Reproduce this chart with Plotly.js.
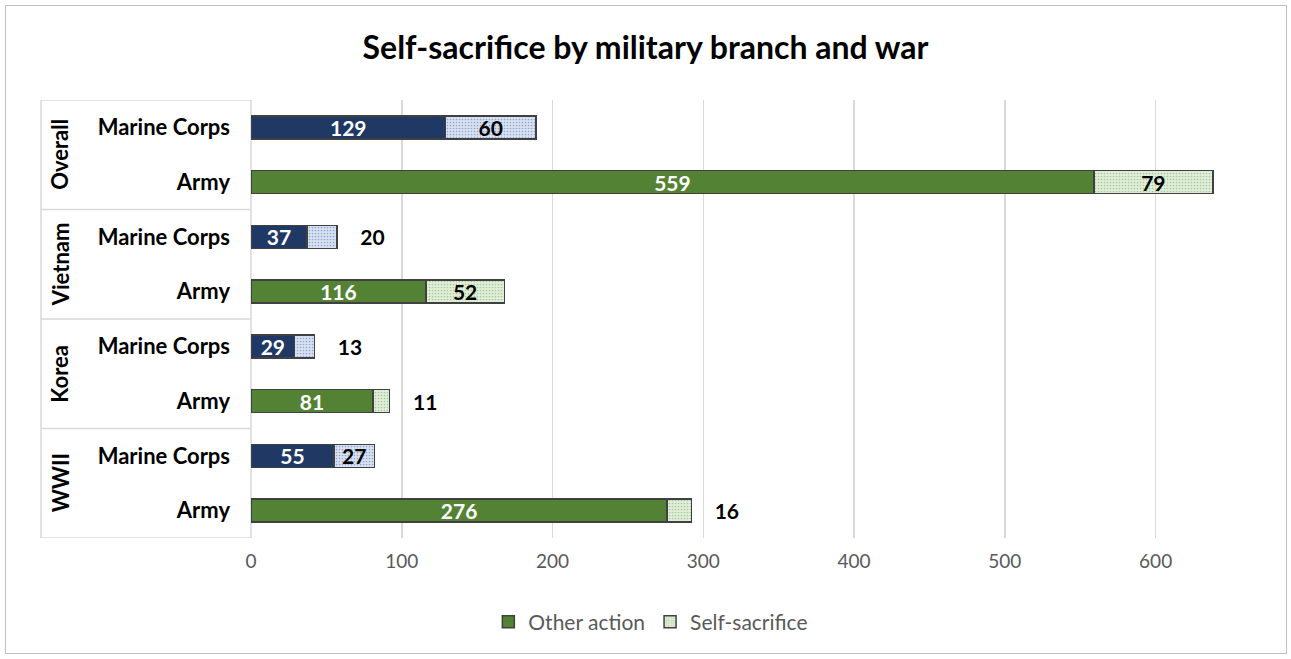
<!DOCTYPE html>
<html><head><meta charset="utf-8">
<script src="https://cdn.plot.ly/plotly-3.0.1.min.js"></script>
<style>
body{margin:0;background:#fff;}
#chart{width:1291px;height:659px;}
#frame{position:absolute;left:5px;top:5px;width:1280px;height:647px;border:1px solid #bfbfbf;pointer-events:none;}
</style></head>
<body>
<div id="chart"></div><div id="frame"></div>
<script>
// Data (bottom to top order of wars)
const wars = ['WWII', 'Korea', 'Vietnam', 'Overall'];
const branches = ['Army', 'Marine Corps'];
const armyOther = [276, 81, 116, 559];
const armySelf = [16, 11, 52, 79];
const marineOther = [55, 29, 37, 129];
const marineSelf = [27, 13, 20, 60];
const selfLabelOutsideArmy = [true, true, false, false];
const selfLabelOutsideMarine = [false, true, true, false];

const armyY = wars.map((w, i) => i * 2);
const marineY = wars.map((w, i) => i * 2 + 1);
const tickvals = [], ticktext = [];
wars.forEach((w, i) => { tickvals.push(i*2, i*2+1); ticktext.push(branches[0], branches[1]); });

const FONT = 'Lato, "Open Sans", sans-serif';
const lineStyle = {color: '#404040', width: 1.5};
const barW = 0.42;
const PAD = '\u00a0\u00a0\u00a0\u00a0';
const selfText = (vals, outs) => vals.map((v, i) => outs[i] ? PAD + v : String(v));

const common = {type:'bar', orientation:'h', width: barW, constraintext:'none', textangle:0,
  insidetextanchor:'middle', cliponaxis:false};

const traces = [
  Object.assign({}, common, {name:'Other action', x: armyOther, y: armyY,
   marker:{color:'#548235', line: lineStyle}, text: armyOther.map(String), textposition:'inside',
   textfont:{color:'#ffffff', size:21, family:FONT, weight:'bold'}}),
  Object.assign({}, common, {name:'Self-sacrifice', x: armySelf, y: armyY,
   marker:{color:'#e2efda', line: lineStyle, pattern:{shape:'.', fgcolor:'#a9c79a', bgcolor:'#e2efda', size:3, solidity:0.25}},
   text: selfText(armySelf, selfLabelOutsideArmy), textposition: selfLabelOutsideArmy.map(o => o ? 'outside' : 'inside'),
   textfont:{color:'#000000', size:21, family:FONT, weight:'bold'}}),
  Object.assign({}, common, {name:'Other action', x: marineOther, y: marineY, showlegend:false,
   marker:{color:'#203864', line: lineStyle}, text: marineOther.map(String), textposition:'inside',
   textfont:{color:'#ffffff', size:21, family:FONT, weight:'bold'}}),
  Object.assign({}, common, {name:'Self-sacrifice', x: marineSelf, y: marineY, showlegend:false,
   marker:{color:'#dae3f3', line: lineStyle, pattern:{shape:'.', fgcolor:'#8fa6cc', bgcolor:'#dae3f3', size:3, solidity:0.25}},
   text: selfText(marineSelf, selfLabelOutsideMarine), textposition: selfLabelOutsideMarine.map(o => o ? 'outside' : 'inside'),
   textfont:{color:'#000000', size:21, family:FONT, weight:'bold'}})
];

const L = 251, R = 60;
const plotW = 1291 - L - R;
const leftEdge = (41 - L) / plotW;
const shapes = [];
for (let i = 0; i <= wars.length; i++) {
  const yb = i * 2 - 0.5;
  shapes.push({type:'line', xref:'paper', yref:'y', x0: leftEdge, x1: 0, y0: yb, y1: yb, line:{color:'#d9d9d9', width:1.5}, layer:'below'});
}
shapes.push({type:'line', xref:'paper', yref:'y', x0: leftEdge, x1: leftEdge, y0: -0.5, y1: wars.length*2-0.5, line:{color:'#d9d9d9', width:1.5}});
shapes.push({type:'line', xref:'paper', yref:'y', x0: 0, x1: 0, y0: -0.5, y1: wars.length*2-0.5, line:{color:'#d9d9d9', width:1.5}, layer:'below'});

const annotations = wars.map((w, i) => ({
  xref:'paper', yref:'y', x: (60 - L) / plotW, y: i*2 + 0.5, text: '<b>' + w + '</b>', showarrow:false,
  textangle: -90, font:{size:22, color:'#000', family:FONT}, xanchor:'center', yanchor:'middle'
}));

const layout = {
  width:1291, height:659, barmode:'stack',
  margin:{l:L, r:R, t:100, b:121},
  paper_bgcolor:'#fff', plot_bgcolor:'#fff',
  font:{family:FONT},
  title:{text:'<b>Self-sacrifice by military branch and war</b>', x:0.5, xanchor:'center', xref:'container', y:0.928, yanchor:'middle',
         font:{size:32, color:'#000', family:FONT}},
  xaxis:{range:[0,650], dtick:100, tick0:0, showgrid:true, gridcolor:'#d9d9d9', gridwidth:1.5, zeroline:false,
         showline:false, ticks:'', tickfont:{size:19, color:'#595959', family:FONT}, ticklabelstandoff:10, fixedrange:true},
  yaxis:{tickmode:'array', tickvals: tickvals, ticktext: ticktext, range:[-0.5, wars.length*2-0.5], showgrid:false, zeroline:false,
         showline:false, ticks:'', tickfont:{size:22, color:'#000', family:FONT, weight:'bold'}, ticklabelstandoff:20, fixedrange:true},
  showlegend:true,
  legend:{orientation:'h', x:0.408, xanchor:'center', y:-0.145, yanchor:'top', font:{size:21, color:'#595959', family:FONT},
          traceorder:'normal', itemwidth:30},
  shapes: shapes, annotations: annotations
};
Plotly.newPlot('chart', traces, layout, {displayModeBar:false, staticPlot:true});
</script>
</body></html>
